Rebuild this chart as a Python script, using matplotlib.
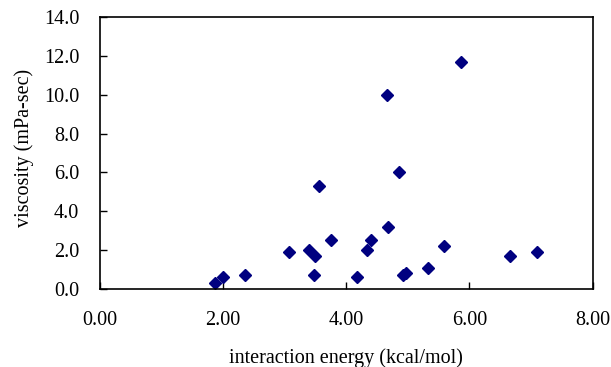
import matplotlib.pyplot as plt
import numpy as np

# interaction energy (kcal/mol) vs viscosity (mPa-sec)
energy = [1.87, 2.00, 2.35, 3.07, 3.40, 3.50, 3.48, 3.56, 3.76, 4.17,
          4.34, 4.41, 4.68, 4.67, 4.86, 4.92, 4.97, 5.32, 5.59, 5.87,
          6.66, 7.10]
viscosity = [0.3, 0.6, 0.7, 1.9, 2.0, 1.7, 0.7, 5.3, 2.5, 0.6,
             2.0, 2.5, 3.2, 10.0, 6.0, 0.7, 0.8, 1.1, 2.2, 11.7,
             1.7, 1.9]

plt.rcParams["font.family"] = "Liberation Serif"

fig = plt.figure(figsize=(6.11, 3.67), dpi=100)
ax = fig.add_axes([100 / 611, 78 / 367, 492.5 / 611, 272 / 367])

ax.plot(energy, viscosity, linestyle="none", marker="D", markersize=6.5,
        color="#000080")

ax.set_xlim(0, 8)
ax.set_ylim(0, 14)
ax.set_xticks(np.arange(0, 8.1, 2))
ax.set_yticks(np.arange(0, 14.1, 2))
ax.xaxis.set_major_formatter(plt.FormatStrFormatter("%.2f"))
ax.yaxis.set_major_formatter(plt.FormatStrFormatter("%.1f"))
ax.tick_params(axis="both", direction="in", length=5, width=1,
               labelsize=14.5)
ax.tick_params(axis="x", pad=16)
ax.tick_params(axis="y", pad=15)
for s in ax.spines.values():
    s.set_linewidth(1.2)

ax.set_xlabel("interaction energy (kcal/mol)", fontsize=14.5, labelpad=13)
ax.set_ylabel("viscosity (mPa-sec)", fontsize=14.5, labelpad=7)
ax.yaxis.set_label_coords(-0.135, 0.52)

fig.savefig("out.png", dpi=100)
